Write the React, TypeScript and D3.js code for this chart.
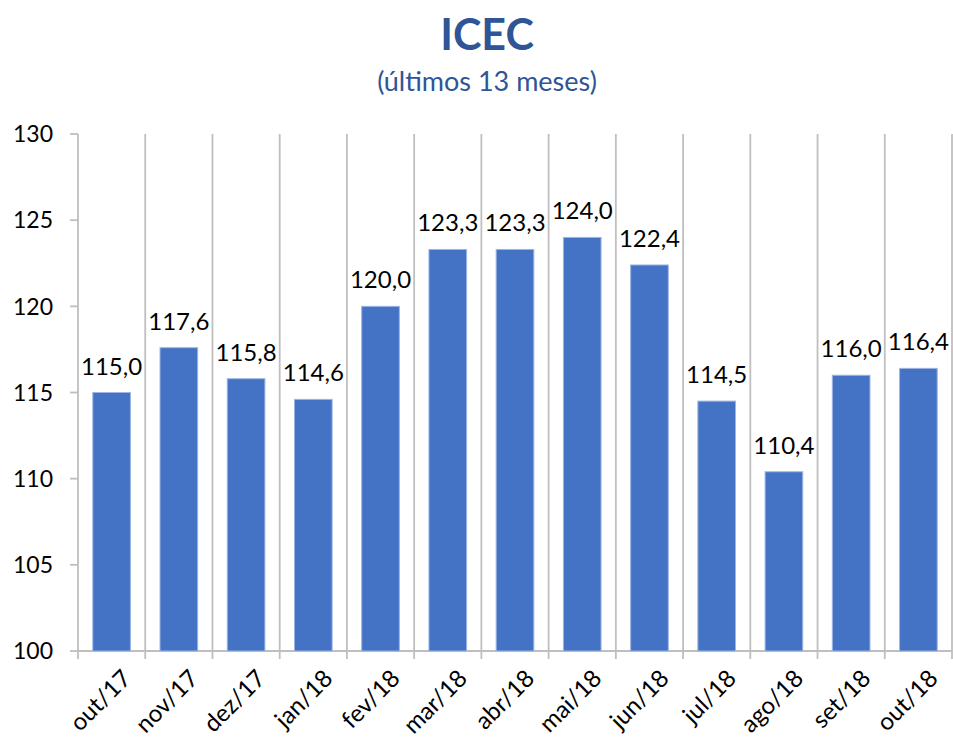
import React from "react";
import * as d3 from "d3";

const months = ["out/17","nov/17","dez/17","jan/18","fev/18","mar/18","abr/18","mai/18","jun/18","jul/18","ago/18","set/18","out/18"];
const values = [115.0,117.6,115.8,114.6,120.0,123.3,123.3,124.0,122.4,114.5,110.4,116.0,116.4];
const yTicks = [100,105,110,115,120,125,130];
const title = "ICEC";
const subtitle = "(últimos 13 meses)";

const W = 953, H = 742;
const left = 78, right = 952, top = 134, bottom = 651;
const FONT = "Lato, 'Open Sans', sans-serif";
const GRID = "#BFBFBF";

export default function App() {
  const x = d3.scaleBand<string>().domain(months).range([left, right]).padding(0);
  const y = d3.scaleLinear().domain([100, 130]).range([bottom, top]);
  const bw = x.bandwidth() * 0.56;
  const fmt = (v: number) => v.toFixed(1).replace(".", ",");
  const bounds = months.map((m) => x(m) as number).concat([right]);

  return (
    <div style={{ position: "absolute", left: 0, top: 0 }}>
      <svg width={W} height={H} style={{ display: "block", background: "#fff" }}>
        <text x={487} y={50} textAnchor="middle" fontFamily={FONT} fontWeight="bold" fontSize={43} fill="#2F5597">{title}</text>
        <text x={487} y={91} textAnchor="middle" fontFamily={FONT} fontSize={27} fill="#2F5597">{subtitle}</text>

        {bounds.map((bx, i) => (
          <line key={"g" + i} x1={bx} x2={bx} y1={top} y2={bottom + 8} stroke={GRID} strokeWidth={1.8} />
        ))}
        <line x1={left} x2={right} y1={bottom} y2={bottom} stroke={GRID} strokeWidth={1.8} />
        {yTicks.map((t) => (
          <g key={"y" + t}>
            <line x1={left - 8} x2={left} y1={y(t)} y2={y(t)} stroke={GRID} strokeWidth={1.8} />
            <text x={53} y={y(t)} dy="0.36em" textAnchor="end" fontFamily={FONT} fontSize={23} fill="#000">{t}</text>
          </g>
        ))}

        {months.map((m, i) => {
          const cx = (x(m) as number) + x.bandwidth() / 2;
          const v = values[i];
          return (
            <g key={m}>
              <rect x={cx - bw / 2} y={y(v)} width={bw} height={bottom - y(v)} fill="#4472C4" stroke="#9DB5E2" strokeWidth={1} />
              <text x={cx} y={y(v) - 18} textAnchor="middle" fontFamily={FONT} fontSize={24} fill="#000">{fmt(v)}</text>
              <text transform={`translate(${cx + 9},${bottom + 17}) rotate(-45)`} textAnchor="end" dy="0.7em" fontFamily={FONT} fontSize={24} fill="#000">{m}</text>
            </g>
          );
        })}
      </svg>
    </div>
  );
}
